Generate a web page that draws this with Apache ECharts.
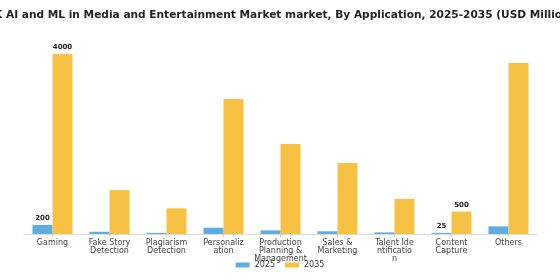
<!DOCTYPE html>
<html>
<head>
<meta charset="utf-8">
<script src="https://cdn.jsdelivr.net/npm/echarts@6/dist/echarts.min.js"></script>
<style>
  html, body { margin: 0; padding: 0; background: #fff; }
  #chart { width: 560px; height: 280px; }
</style>
</head>
<body>
<div id="chart"></div>
<script>
/* chart data */
var categories = ['Gaming', 'Fake Story\nDetection', 'Plagiarism\nDetection', 'Personaliz\nation',
  'Production\nPlanning &\nManagement', 'Sales &\nMarketing', 'Talent Ide\nntificatio\nn',
  'Content\nCapture', 'Others'];
var values2025 = [200, 50, 25, 140, 80, 60, 35, 25, 170];
var values2035 = [4000, 980, 570, 3000, 2000, 1580, 780, 500, 3800];
var labelled = [0, 7]; // categories that show value labels

function withLabels(arr) {
  return arr.map(function (v, i) {
    return {
      value: v,
      label: { show: labelled.indexOf(i) >= 0 }
    };
  });
}

var barLabel = {
  position: 'top',
  distance: 3,
  fontSize: 7,
  fontWeight: 'bold',
  color: '#222',
  fontFamily: 'DejaVu Sans'
};

var option = {
  animation: false,
  title: {
    text: 'UK AI and ML in Media and Entertainment Market market, By Application, 2025-2035 (USD Million)',
    left: 'center',
    top: 5,
    textStyle: { fontSize: 10.6, fontWeight: 'bold', color: '#222', fontFamily: 'DejaVu Sans' }
  },
  legend: {
    data: ['2025', '2035'],
    bottom: 6,
    left: 'center',
    itemWidth: 14,
    itemHeight: 5,
    itemGap: 10,
    icon: 'rect',
    textStyle: { fontSize: 8, color: '#333', fontFamily: 'DejaVu Sans' }
  },
  grid: { top: 54, bottom: 46, left: 24, right: 23 },
  xAxis: {
    type: 'category',
    data: categories,
    axisLine: { lineStyle: { color: '#ddd' } },
    axisTick: { show: true, alignWithLabel: true, length: 3, lineStyle: { color: '#ccc' } },
    axisLabel: { interval: 0, fontSize: 8, color: '#444', lineHeight: 8, margin: 5, fontFamily: 'DejaVu Sans' }
  },
  yAxis: { type: 'value', min: 0, max: 4000, show: false },
  series: [
    {
      name: '2025',
      type: 'bar',
      data: withLabels(values2025),
      barWidth: 20,
      barGap: '0%',
      itemStyle: { color: '#5DADE2' },
      label: barLabel
    },
    {
      name: '2035',
      type: 'bar',
      data: withLabels(values2035),
      barWidth: 20,
      itemStyle: { color: '#F7C244' },
      label: barLabel
    }
  ]
};

var chart = echarts.init(document.getElementById('chart'));
chart.setOption(option);
</script>
</body>
</html>
